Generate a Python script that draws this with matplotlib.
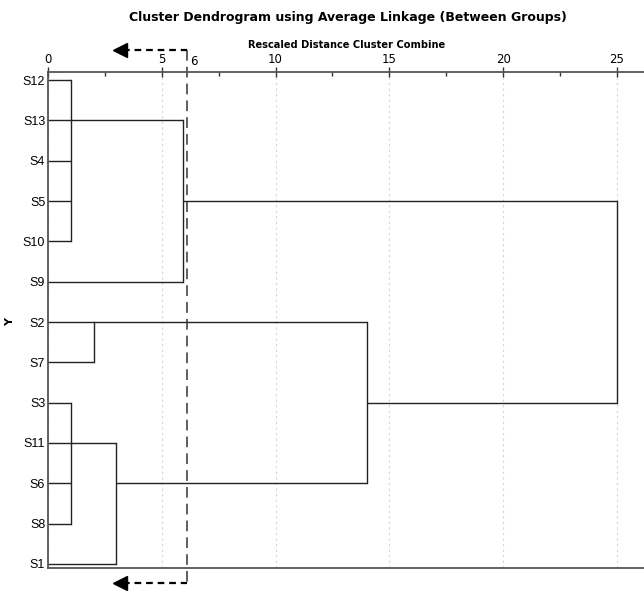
import matplotlib.pyplot as plt
import numpy as np
from matplotlib.ticker import MultipleLocator

# leaves top-to-bottom, as listed in the dendrogram
labels = ['S12', 'S13', 'S4', 'S5', 'S10', 'S9', 'S2', 'S7', 'S3', 'S11', 'S6', 'S8', 'S1']

# merge steps: (children, rescaled distance, row the joined cluster leaves from)
# children are leaf names or earlier merge ids ('m0', 'm1', ...)
merges = [
    (['S12', 'S13', 'S4', 'S5', 'S10'], 1.0, 'S13'),
    (['m0', 'S9'], 5.95, 'S5'),
    (['S2', 'S7'], 2.0, 'S2'),
    (['S3', 'S11', 'S6', 'S8'], 1.0, 'S11'),
    (['m3', 'S1'], 3.0, 'S6'),
    (['m2', 'm4'], 14.0, 'S3'),
    (['m1', 'm5'], 25.0, None),
]
cut_at = 6.1

fig = plt.figure(figsize=(6.44, 5.93), dpi=100)
ax = fig.add_axes([48/644, 1 - 568/593, 1 - 48/644, (568 - 72)/593])

row = {lab: i for i, lab in enumerate(labels)}
nodes = {lab: (row[lab], 0.0) for lab in labels}

for k, (children, h, out) in enumerate(merges):
    rows = []
    for c in children:
        r, x0 = nodes[c]
        ax.plot([x0, h], [r, r], color='#222222', lw=1.0, solid_capstyle='butt')
        rows.append(r)
    ax.plot([h, h], [min(rows), max(rows)], color='#222222', lw=1.0)
    if out is not None:
        nodes['m%d' % k] = (row[out], h)

# cut line with the two arrows
y_top, y_bot = -0.75, 12.47
ax.plot([cut_at, cut_at], [y_top, y_bot], color='#333333', lw=1.1,
        dashes=(7, 4), clip_on=False)
for yy in [y_top, y_bot]:
    ax.plot([3.3, cut_at], [yy, yy], color='black', lw=1.6, dashes=(3, 2.2), clip_on=False)
    ax.plot([3.15], [yy], marker='<', color='black', markersize=10, clip_on=False)
ax.text(cut_at + 0.15, -0.3, '6', fontsize=8.5, ha='left', va='bottom', clip_on=False)

ax.set_xlim(0, 26.19)
ax.set_ylim(12.1, -0.2)

ax.xaxis.tick_top()
ax.xaxis.set_major_locator(MultipleLocator(5))
ax.xaxis.set_minor_locator(MultipleLocator(2.5))
ax.tick_params(axis='x', which='major', direction='inout', length=7, width=1,
               labelsize=8.5, pad=1, colors='#333333', labelcolor='black')
ax.tick_params(axis='x', which='minor', direction='in', length=3, width=1, colors='#333333')
ax.grid(axis='x', which='major', color='#d5d5d5', linestyle=(0, (2, 3)), lw=0.8)

ax.set_yticks(range(len(labels)))
ax.set_yticklabels(labels, family='Liberation Sans', fontsize=9)
ax.tick_params(axis='y', length=0, pad=2)

ax.spines['right'].set_visible(False)
for s in ['top', 'left', 'bottom']:
    ax.spines[s].set_color('#555555')
    ax.spines[s].set_linewidth(1.3)

fig.text(348/644, 1 - 17/593, 'Cluster Dendrogram using Average Linkage (Between Groups)',
         ha='center', va='center', fontsize=9, fontweight='bold')
fig.text(347/644, 1 - 45/593, 'Rescaled Distance Cluster Combine',
         ha='center', va='center', fontsize=7.1, fontweight='bold')
fig.text(10/644, 1 - 322/593, 'Y', rotation=90, ha='center', va='center',
         fontsize=8, fontweight='bold')

fig.savefig('out.png', dpi=100)
